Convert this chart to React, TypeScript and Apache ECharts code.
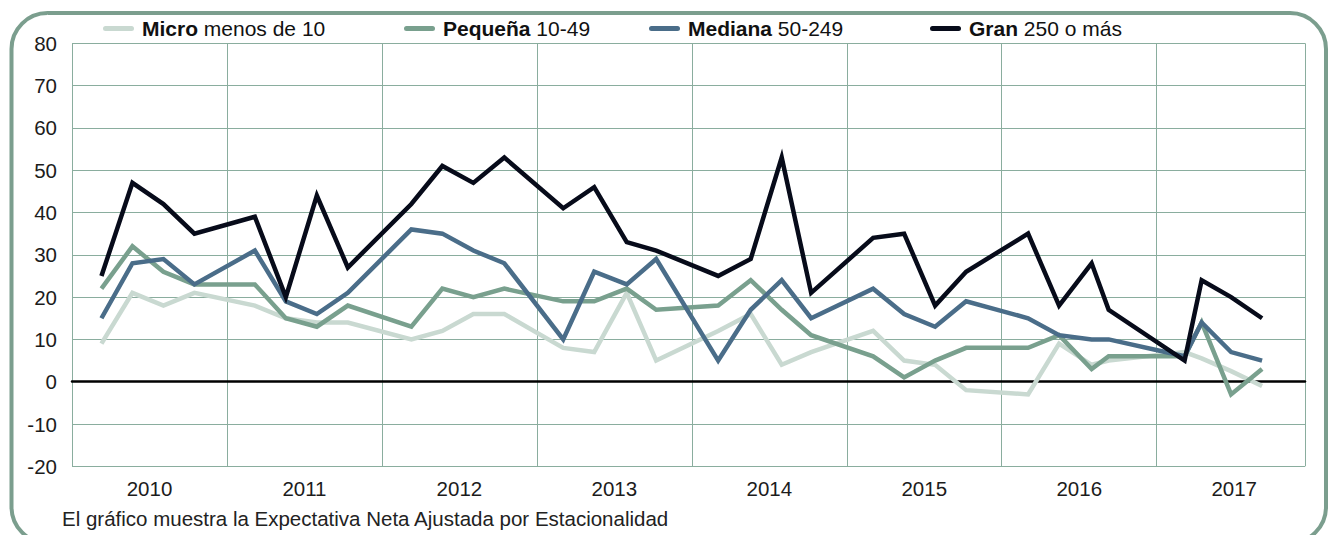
import React, { useEffect, useRef } from 'react';
import * as echarts from 'echarts';

// Year bands shown on the x axis
const years = [2010, 2011, 2012, 2013, 2014, 2015, 2016, 2017];
// Position of each quarterly observation along the time axis (fractional years)
const quarterX = [
  2010.19, 2010.39, 2010.59, 2010.79,
  2011.18, 2011.38, 2011.58, 2011.78,
  2012.19, 2012.39, 2012.59, 2012.79,
  2013.17, 2013.37, 2013.58, 2013.77,
  2014.17, 2014.38, 2014.58, 2014.77,
  2015.17, 2015.37, 2015.57, 2015.77,
  2016.17, 2016.37, 2016.58, 2016.69,
  2017.18, 2017.29, 2017.48, 2017.68,
];

const seriesNames = ['Micro', 'Pequeña', 'Mediana', 'Gran'];
const seriesSuffix = ['menos de 10', '10-49', '50-249', '250 o más'];

const micro = [9, 21, 18, 21, 18, 15, 14, 14, 10, 12, 16, 16, 8, 7, 21, 5, 12, 16, 4, 7, 12, 5, 4, -2, -3, 9, 4, 5, 7, 5.5, 2.5, -1];
const pequena = [22, 32, 26, 23, 23, 15, 13, 18, 13, 22, 20, 22, 19, 19, 22, 17, 18, 24, 17, 11, 6, 1, 5, 8, 8, 11, 3, 6, 6, 14, -3, 3];
const mediana = [15, 28, 29, 23, 31, 19, 16, 21, 36, 35, 31, 28, 10, 26, 23, 29, 5, 17, 24, 15, 22, 16, 13, 19, 15, 11, 10, 10, 6, 14, 7, 5];
const gran = [25, 47, 42, 35, 39, 20, 44, 27, 42, 51, 47, 53, 41, 46, 33, 31, 25, 29, 53, 21, 34, 35, 18, 26, 35, 18, 28, 17, 5, 24, 20, 15];

const yMin = -20;
const yMax = 80;
const yStep = 10;

const footnote = 'El gráfico muestra la Expectativa Neta Ajustada por Estacionalidad';

const seriesValues = [micro, pequena, mediana, gran];
const seriesColors = ['#c9d9d1', '#79a08e', '#4a6d89', '#070b1a'];
const legendLeft = [103, 404, 649, 930];

const FONT = '"Liberation Sans", Arial, Helvetica, sans-serif';
const gridColor = '#8aad9e';
const frameColor = '#7b9e8e';
const textColor = '#1c1c1c';
const pill = 'path://M2.5,0 H28.5 A2.5,2.5 0 0 1 28.5,5 H2.5 A2.5,2.5 0 0 1 2.5,0 Z';

export default function App() {
  const ref = useRef<HTMLDivElement>(null);

  useEffect(() => {
    const chart = echarts.init(ref.current!, null, { renderer: 'svg' });
    const xMin = years[0];
    const xMax = years[years.length - 1] + 0.957;

    const option: any = {
      animation: false,
      backgroundColor: '#ffffff',
      grid: {
        left: 72,
        right: 24,
        top: 43.3,
        bottom: 68.7,
        containLabel: false,
        outerBoundsMode: 'none',
      },
      legend: seriesNames.map((name, i) => ({
        data: [name],
        left: legendLeft[i],
        top: 18,
        padding: 0,
        itemWidth: 31,
        itemHeight: 5,
        icon: pill,
        selectedMode: false,
        formatter: (n: string) => `{b|${n}} {r|${seriesSuffix[i]}}`,
        textStyle: {
          fontFamily: FONT,
          fontSize: 21,
          color: '#111',
          padding: [0, 0, 0, 3],
          rich: {
            b: { fontWeight: 'bold', fontSize: 21, fontFamily: FONT, color: '#111', lineHeight: 22 },
            r: { fontSize: 21, fontFamily: FONT, color: '#111', lineHeight: 22 },
          },
        },
      })),
      xAxis: [
        {
          type: 'value',
          min: xMin,
          max: xMax,
          interval: 1,
          z: 1,
          axisLine: { show: true, onZero: true, lineStyle: { color: '#000', width: 2.5 } },
          axisTick: { show: false },
          axisLabel: { show: false },
          splitLine: { show: true, lineStyle: { color: gridColor, width: 1 } },
        },
        {
          type: 'value',
          min: xMin,
          max: xMax,
          interval: 0.5,
          position: 'bottom',
          axisLine: { show: false, onZero: false },
          axisTick: { show: false },
          splitLine: { show: false },
          axisLabel: {
            fontFamily: FONT,
            fontSize: 20.5,
            color: textColor,
            margin: 12,
            formatter: (v: number) =>
              Math.abs(v - Math.floor(v) - 0.5) < 0.01 ? String(Math.floor(v)) : '',
          },
        },
      ],
      yAxis: {
        type: 'value',
        min: yMin,
        max: yMax,
        interval: yStep,
        axisLine: { show: false },
        axisTick: { show: false },
        axisLabel: { fontFamily: FONT, fontSize: 20.5, color: textColor, margin: 15 },
        splitLine: { show: true, lineStyle: { color: gridColor, width: 1 } },
      },
      series: seriesNames.map((name, i) => ({
        type: 'line',
        name,
        xAxisIndex: 0,
        yAxisIndex: 0,
        data: quarterX.map((x, j) => [x, seriesValues[i][j]]),
        showSymbol: false,
        symbol: 'none',
        color: seriesColors[i],
        itemStyle: { color: seriesColors[i] },
        lineStyle: { width: 4.5, color: seriesColors[i], join: 'miter', cap: 'butt' },
        emphasis: { disabled: true },
      })),
      graphic: [
        {
          type: 'rect',
          silent: true,
          shape: { x: 11.5, y: 13, width: 1314.5, height: 530, r: 36 },
          style: { fill: 'none', stroke: frameColor, lineWidth: 4 },
        },
        {
          type: 'text',
          silent: true,
          x: 62,
          y: 518,
          style: {
            text: footnote,
            font: `20.5px ${FONT}`,
            fill: '#222',
            verticalAlign: 'middle',
          },
        },
      ],
    };

    chart.setOption(option);
    return () => chart.dispose();
  }, []);

  return (
    <div
      ref={ref}
      style={{ position: 'fixed', left: 0, top: 0, width: 1329, height: 535 }}
    />
  );
}
